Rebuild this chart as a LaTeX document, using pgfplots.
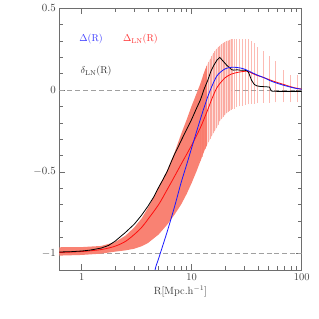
\documentclass[border=0pt]{standalone}
\usepackage{pgfplots}
\pgfplotsset{compat=1.18}
\usepackage{pgfplotstable}
\definecolor{band}{RGB}{249,130,115}
\definecolor{bars}{RGB}{250,120,105}
\definecolor{axgray}{RGB}{110,110,110}
\definecolor{dgray}{RGB}{160,160,160}
\definecolor{myblue}{RGB}{25,25,255}
\definecolor{myred}{RGB}{255,15,15}

\pgfplotstableread{
R y
0.625 -0.961
1 -0.960
1.5 -0.953
2 -0.930
2.5 -0.890
3 -0.840
3.5 -0.785
4 -0.720
4.5 -0.655
5 -0.593
6 -0.490
7 -0.380
8 -0.270
9 -0.180
10 -0.095
11 -0.025
12 0.040
13 0.110
13.7 0.150
13.7 -0.340
13 -0.370
12 -0.434
11 -0.500
10 -0.567
9 -0.635
8 -0.700
7 -0.760
6 -0.822
5 -0.883
4 -0.935
3.5 -0.955
3 -0.970
2.5 -0.980
2 -0.988
1.5 -1.000
1 -1.008
0.625 -1.012
}\bandpoly

\pgfplotstableread{
R y
12.0 0.040
12.8 0.100
13.7 0.150
14.7 0.190
15.7 0.225
16.8 0.252
18.0 0.272
19.2 0.287
20.6 0.299
22.0 0.307
23.0 0.311
23.0 -0.120
22.0 -0.127
20.6 -0.143
19.2 -0.166
18.0 -0.190
16.8 -0.232
15.7 -0.265
14.7 -0.300
13.7 -0.340
12.8 -0.385
12.0 -0.434
}\lightpoly

\pgfplotstableread{
R lo hi
12.0 -0.434 0.040
12.4 -0.410 0.070
12.8 -0.385 0.100
13.3 -0.360 0.130
13.7 -0.340 0.150
14.2 -0.320 0.170
14.7 -0.300 0.190
15.2 -0.283 0.208
15.7 -0.265 0.225
16.2 -0.250 0.240
16.8 -0.232 0.252
17.4 -0.215 0.262
18.0 -0.190 0.272
18.6 -0.178 0.280
19.2 -0.166 0.287
19.9 -0.153 0.294
20.6 -0.143 0.299
21.3 -0.135 0.303
22.0 -0.127 0.307
22.7 -0.122 0.310
23.4 -0.117 0.313
24.2 -0.113 0.313
25.6 -0.105 0.313
27.1 -0.100 0.313
28.8 -0.095 0.313
30.5 -0.090 0.313
32.7 -0.087 0.310
34.6 -0.085 0.302
36.8 -0.083 0.285
39.8 -0.080 0.265
44.8 -0.078 0.237
50.7 -0.076 0.210
57.2 -0.075 0.180
68.0 -0.075 0.120
79.4 -0.075 0.095
91.2 -0.075 0.090
}\bartab

\pgfplotstableread{
R y
0.625 -0.990
0.8 -0.988
1 -0.984
1.2 -0.978
1.5 -0.966
1.75 -0.950
2 -0.925
2.5 -0.870
3 -0.820
3.5 -0.765
4 -0.710
4.5 -0.655
5 -0.595
5.5 -0.545
6 -0.495
6.5 -0.440
7 -0.390
7.5 -0.350
8 -0.310
9 -0.240
10 -0.178
11 -0.115
12 -0.060
13 0.008
14 0.060
15 0.118
16 0.155
17 0.184
18 0.200
19 0.182
20 0.165
21 0.149
22 0.138
23 0.125
24 0.122
26 0.124
28 0.121
30 0.122
32 0.118
33 0.105
35 0.060
37 0.035
39 0.026
42 0.022
48 0.020
51 0.018
53 -0.006
60 -0.008
100 -0.008
}\blacktab

\pgfplotstableread{
R y
0.625 -0.993
1 -0.987
1.5 -0.975
2 -0.955
2.5 -0.925
3 -0.883
3.5 -0.840
4 -0.790
5 -0.700
6 -0.607
7 -0.526
8 -0.454
10 -0.336
12 -0.229
14 -0.120
15 -0.066
17 0.016
20 0.074
23 0.098
27 0.110
32 0.115
36 0.100
40 0.088
45 0.077
55 0.055
68 0.035
85 0.015
100 0.006
}\redtab

\pgfplotstableread{
R y
4.3 -1.250
4.64 -1.100
5 -1.030
6 -0.863
7 -0.710
8 -0.567
9 -0.455
10 -0.352
11 -0.260
12 -0.177
13 -0.104
14 -0.040
15 0.012
17 0.088
20 0.129
23 0.139
26 0.138
30 0.129
35 0.108
40 0.090
45 0.077
50 0.062
55 0.050
68 0.030
85 0.013
100 0.005
}\bluetab

\begin{document}
\begin{tikzpicture}
\useasboundingbox (-59.3bp,-49bp) rectangle (259.7bp,270bp);
\begin{axis}[
  at={(0,0)}, anchor=south west,
  scale only axis,
  width=242.4bp, height=261.7bp,
  xmode=log,
  xmin=0.625, xmax=100,
  ymin=-1.1, ymax=0.5,
  xtick={1,10,100},
  xticklabels={1,10,100},
  ytick={-1,-0.5,0,0.5},
  yticklabels={$-1$,$-0.5$,$0$,$0.5$},
  minor y tick num=4,
  tick align=inside,
  xtick pos=both, ytick pos=both,
  major tick length=6bp,
  minor tick length=3.5bp,
  axis line style={axgray, line width=0.6pt},
  every tick/.style={axgray, line width=0.5pt},
  tick label style={font=\fontsize{10.5}{12}\selectfont, text=black!75},
  xlabel={R[Mpc.h$^{-1}$]},
  xlabel style={font=\fontsize{10.5}{12}\selectfont, text=black!75, yshift=2bp},
  clip=true,
]
\addplot[dgray, dashed, line width=0.6pt, dash pattern=on 5pt off 3pt] coordinates {(0.625,0) (100,0)};
\addplot[dgray, dashed, line width=0.6pt, dash pattern=on 5pt off 3pt] coordinates {(0.625,-1) (100,-1)};
\addplot[fill=band!28, draw=none] table[x=R, y=y] {\lightpoly} -- cycle;
\addplot[fill=band, draw=none] table[x=R, y=y] {\bandpoly} -- cycle;
\addplot[draw=none, mark=none,
  error bars/.cd, y dir=plus, y explicit, error mark=none,
  error bar style={bars, opacity=0.5, line width=0.6pt}]
  table[x=R, y=lo, y error plus expr=\thisrow{hi}-\thisrow{lo}] {\bartab};
\addplot[myred, line width=0.8pt, smooth] table[x=R, y=y] {\redtab};
\addplot[black, line width=0.8pt] table[x=R, y=y] {\blacktab};
\addplot[myblue, line width=0.8pt, smooth] table[x=R, y=y] {\bluetab};
\node[text=myblue!85] at (axis cs:1.215,0.31) {$\Delta(\mathrm{R})$};
\node[text=myred!85] at (axis cs:3.42,0.31) {$\Delta_{\mathrm{LN}}(\mathrm{R})$};
\node[text=black!80] at (axis cs:1.35,0.114) {$\delta_{\mathrm{LN}}(\mathrm{R})$};
\end{axis}
\end{tikzpicture}
\end{document}
